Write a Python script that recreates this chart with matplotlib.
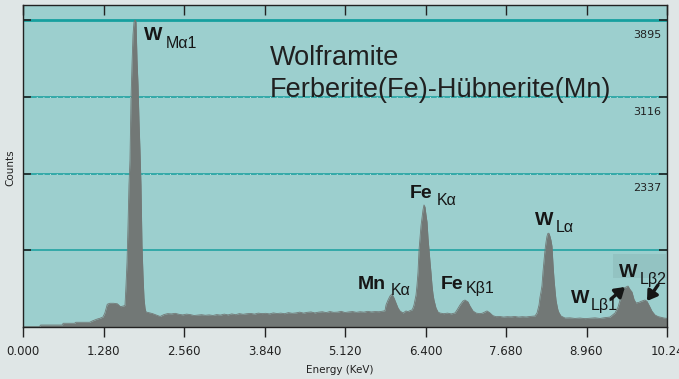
import matplotlib
matplotlib.use("Agg")
import matplotlib.pyplot as plt

# ---------------- data ----------------
energy_kev = [
    0.00, 0.26, 0.28, 0.62, 0.64, 0.82, 0.84, 1.06, 1.10, 1.18, 1.22, 1.27, 1.30, 1.34, 1.38, 1.44, 1.50, 1.55, 1.58, 1.61,
    # W M-alpha peak
    1.622, 1.638, 1.654, 1.670, 1.685, 1.701, 1.717, 1.733, 1.749, 1.765, 1.781, 1.797, 1.813,
    1.829, 1.844, 1.860, 1.876, 1.892, 1.908, 1.924, 1.940, 1.956,
    # background
    2.00, 2.06, 2.12, 2.18, 2.24, 2.30, 2.36, 2.42, 2.48, 2.54, 2.60, 2.66, 2.72, 2.78, 2.84, 2.90,
    2.96, 3.02, 3.08, 3.14, 3.20, 3.26, 3.32, 3.38, 3.44, 3.50, 3.56, 3.62, 3.68, 3.74, 3.80, 3.86,
    3.92, 3.98, 4.04, 4.10, 4.16, 4.22, 4.28, 4.34, 4.40, 4.46, 4.52, 4.58, 4.64, 4.70, 4.76, 4.82,
    4.88, 4.94, 5.00, 5.06, 5.12, 5.18, 5.24, 5.30, 5.36, 5.42, 5.48, 5.54, 5.60, 5.66, 5.72,
    # Mn K-alpha
    5.756, 5.772, 5.804, 5.836, 5.867, 5.899, 5.931, 5.963, 5.994, 6.042, 6.090, 6.120, 6.153,
    # Fe K-alpha
    6.185, 6.201, 6.217, 6.233, 6.249, 6.265, 6.281, 6.297, 6.312, 6.328, 6.344, 6.360, 6.376,
    6.392, 6.408, 6.424, 6.440, 6.456, 6.472, 6.487, 6.503, 6.519, 6.535, 6.551, 6.567, 6.583, 6.599,
    6.63, 6.69, 6.75, 6.81, 6.87,
    # Fe K-beta
    6.901, 6.949, 6.996, 7.028, 7.076, 7.107, 7.155, 7.203, 7.25, 7.30, 7.34, 7.378, 7.42, 7.47,
    7.52, 7.58, 7.64, 7.70, 7.76, 7.82, 7.88, 7.94, 8.00, 8.06,
    # W L-alpha
    8.141, 8.173, 8.205, 8.220, 8.236, 8.252, 8.268, 8.284, 8.300, 8.316, 8.331, 8.347, 8.363,
    8.379, 8.395, 8.411, 8.427, 8.443, 8.459, 8.475, 8.490, 8.506, 8.522, 8.554, 8.618,
    8.698, 8.777, 8.857, 8.936, 9.016, 9.095, 9.175, 9.254, 9.334,
    # W L-beta
    9.413, 9.461, 9.493, 9.525, 9.556, 9.588, 9.620, 9.652, 9.683, 9.715, 9.747, 9.795, 9.842,
    9.890, 9.922, 9.969, 10.001, 10.049, 10.097, 10.144, 10.192, 10.24,
]

counts = [
    782, 782, 799, 799, 817, 817, 827, 827, 840, 860, 867, 880, 918, 1010, 1020, 1020, 1015, 985, 990, 995,
    # W M-alpha peak
    1003, 1206, 1439, 1815, 2222, 2476, 3085, 3441, 3746, 3878, 3898, 3878, 3492,
    3238, 2882, 2577, 2222, 1612, 1307, 1074, 972, 931,
    # background
    925, 915, 900, 886, 905, 915, 912, 918, 908, 902, 910, 905, 896, 900, 904, 898,
    902, 896, 905, 900, 910, 902, 912, 904, 915, 908, 914, 917, 910, 920, 915, 918,
    912, 922, 916, 920, 914, 925, 918, 922, 930, 920, 928, 932, 922, 930, 934, 925,
    936, 928, 930, 938, 926, 932, 936, 928, 934, 930, 938, 932, 936, 934, 940,
    # Mn K-alpha
    945, 1003, 1053, 1094, 1114, 1074, 1023, 972, 942, 921, 942, 935, 945,
    # Fe K-alpha
    952, 972, 1003, 1053, 1104, 1206, 1338, 1561, 1683, 1805, 1886, 1968, 2019,
    1998, 1917, 1846, 1683, 1561, 1439, 1338, 1206, 1114, 1053, 1013, 972, 952, 931,
    921, 914, 920, 912, 922,
    # Fe K-beta
    952, 1003, 1043, 1053, 1033, 992, 942, 921, 915, 918, 930, 942, 925, 895,
    884, 886, 880, 884, 882, 886, 880, 884, 881, 886,
    # W L-alpha
    891, 921, 1003, 1080, 1135, 1200, 1340, 1450, 1561, 1640, 1700, 1731, 1731,
    1700, 1660, 1600, 1420, 1270, 1155, 1053, 1000, 952, 925, 891, 870,
    872, 866, 870, 864, 868, 872, 866, 874, 880,
    # W L-beta
    921, 980, 1053, 1135, 1175, 1185, 1195, 1160, 1135, 1060, 1023, 1030, 1043,
    1053, 1040, 982, 940, 901, 885, 878, 870, 867,
]

x_ticks = [0.0, 1.28, 2.56, 3.84, 5.12, 6.40, 7.68, 8.96, 10.24]
x_tick_labels = ["0.000", "1.280", "2.560", "3.840", "5.120", "6.400", "7.680", "8.960", "10.24"]
grid_levels = [3895, 3116, 2337, 1558]
grid_labels = ["3895", "3116", "2337"]

# ---------------- styling ----------------
W, H = 679, 379
fig_bg = "#dfe6e6"
ax_bg = "#9ccfce"
fill_c = "#727876"
grid_c = "#17a09f"
text_c = "#161616"

fig = plt.figure(figsize=(W / 100, H / 100), dpi=100, facecolor=fig_bg)
ax = fig.add_axes([23 / W, 1 - 327 / H, 644 / W, 322 / H])
ax.set_facecolor(ax_bg)

ymin, ymax = 779, 4050
ax.set_xlim(0, 10.24)
ax.set_ylim(ymin, ymax)

for i, lvl in enumerate(grid_levels):
    ax.axhline(lvl, color=grid_c, lw=2.0 if i == 0 else 1.1, zorder=1)
    if 0 < i < 3:
        ax.axhline(lvl, color="#e8f4f4", lw=0.6, ls=(0, (1, 7)), zorder=1)

ax.fill_between(energy_kev, ymin, counts, color=fill_c, lw=0, zorder=2)
ax.plot(energy_kev, counts, color=fill_c, lw=0.6, zorder=2)

# grid value labels at right
for lvl, lab in zip(grid_levels, grid_labels):
    ax.text(10.15, lvl - 150, lab, ha="right", va="center", fontsize=8,
            family="DejaVu Sans", color="#222222", zorder=5)

# spines
for s in ax.spines.values():
    s.set_color("#222222")
    s.set_linewidth(1.0)
    s.set_linestyle((0, (2, 1)))

ax.set_xticks(x_ticks)
ax.set_xticklabels(x_tick_labels, fontsize=8.5, family="DejaVu Sans", color="#222222")
ax.tick_params(axis="x", which="both", direction="out", length=7, width=1.0,
               color="#222222", pad=6, top=True)
ax.set_yticks(grid_levels)
ax.set_yticklabels([])
ax.tick_params(axis="y", direction="in", length=6, width=1.2, color="#222222",
               right=True, left=True)
for t in ax.xaxis.get_major_ticks():
    t.tick2line.set_marker(3)  # top ticks point inward
    t.tick2line.set_markersize(7)

fig.text(340 / W, 1 - 370 / H, "Energy (KeV)", ha="center", va="center",
         fontsize=7.5, family="DejaVu Sans", color="#222222")
fig.text(10 / W, 1 - 168 / H, "Counts", ha="center", va="center", rotation=90,
         fontsize=7.5, family="DejaVu Sans", color="#222222")

# ---------------- annotations ----------------
def fp(x, y):
    return (x / W, 1 - y / H)

lab_font = "Liberation Sans"
big, small = 14, 11.5

def peak_label(main, sub, x_main, y_main, x_sub, y_sub):
    fig.text(*fp(x_main, y_main), main, ha="left", va="baseline", fontsize=big,
             fontweight="bold", family=lab_font, color=text_c, zorder=6)
    fig.text(*fp(x_sub, y_sub), sub, ha="left", va="baseline", fontsize=small,
             family=lab_font, color=text_c, zorder=6)

peak_label("W", "Mα1", 144, 40, 166, 48)
peak_label("Fe", "Kα", 410, 198, 437, 205)
peak_label("Mn", "Kα", 358, 289, 391, 295)
peak_label("Fe", "Kβ1", 441, 289, 466, 293)
peak_label("W", "Lα", 535, 225, 556, 232)
peak_label("W", "Lβ1", 571, 303, 591, 310)

# shaded box behind W L-beta2
box = plt.Rectangle(fp(613, 278), 53 / W, 24 / H, transform=fig.transFigure,
                    facecolor="#93c3c2", edgecolor="none", zorder=3)
fig.patches.append(box)
peak_label("W", "Lβ2", 619, 277, 640, 284)

arrow_kw = dict(arrowstyle="-|>,head_length=0.7,head_width=0.45", color=text_c,
                lw=2.4, mutation_scale=8, shrinkA=0, shrinkB=0)
ax.annotate("", xy=fp(625, 287), xytext=fp(611, 299), xycoords="figure fraction",
            textcoords="figure fraction", arrowprops=arrow_kw, zorder=7)
ax.annotate("", xy=fp(647, 301), xytext=fp(658, 285), xycoords="figure fraction",
            textcoords="figure fraction", arrowprops=arrow_kw, zorder=7)

# title
fig.text(*fp(270, 65), "Wolframite", ha="left", va="baseline", fontsize=19.5,
         family=lab_font, color="#202020", zorder=6)
fig.text(*fp(270, 97), "Ferberite(Fe)-Hübnerite(Mn)", ha="left", va="baseline",
         fontsize=19.5, family=lab_font, color="#202020", zorder=6)

fig.savefig("out.png", dpi=100, facecolor=fig_bg)
